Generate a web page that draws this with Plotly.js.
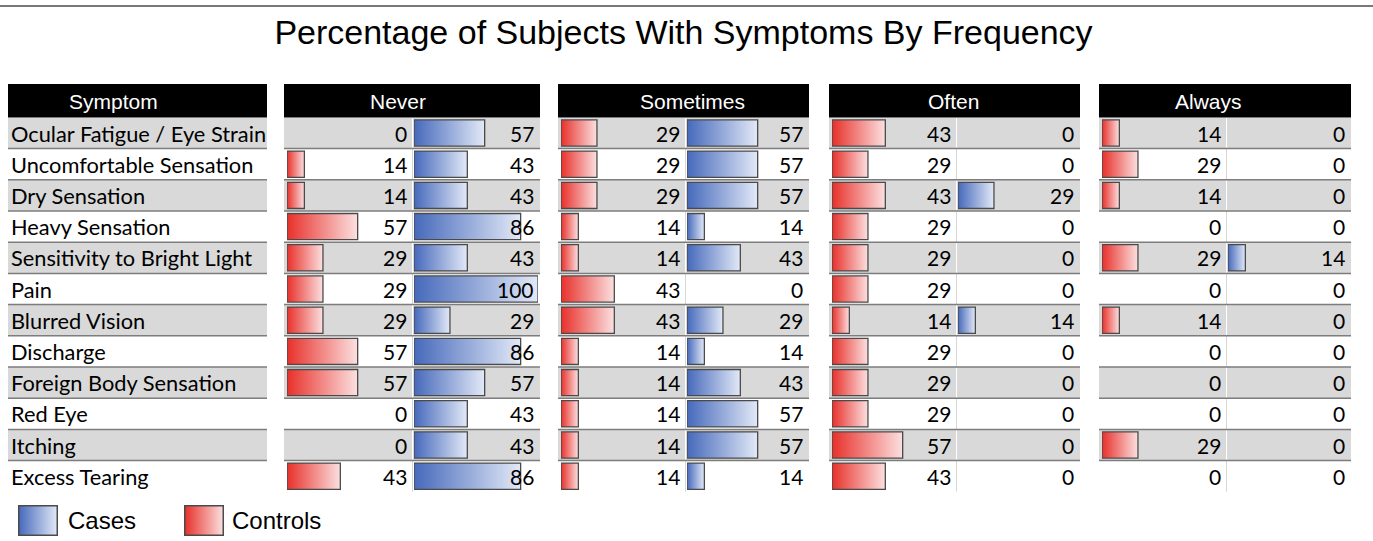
<!DOCTYPE html>
<html>
<head>
<meta charset="utf-8">
<script src="https://cdn.plot.ly/plotly-3.0.1.min.js"></script>
<style>html,body{margin:0;padding:0;background:#fff;}#chart{width:1373px;height:541px;}</style>
</head>
<body>
<div id="chart"></div>
<script>
// ---------- DATA ----------
const title = "Percentage of Subjects With Symptoms By Frequency";
const symptoms = ["Ocular Fatigue / Eye Strain","Uncomfortable Sensation","Dry Sensation","Heavy Sensation","Sensitivity to Bright Light","Pain","Blurred Vision","Discharge","Foreign Body Sensation","Red Eye","Itching","Excess Tearing"];
const frequencies = ["Never","Sometimes","Often","Always"];
const neverControls     = [0,14,14,57,29,29,29,57,57,0,0,43];
const neverCases        = [57,43,43,86,43,100,29,86,57,43,43,86];
const sometimesControls = [29,29,29,14,14,43,43,14,14,14,14,14];
const sometimesCases    = [57,57,57,14,43,0,29,14,43,57,57,14];
const oftenControls     = [43,29,43,29,29,29,14,29,29,29,57,43];
const oftenCases        = [0,0,29,0,0,0,14,0,0,0,0,0];
const alwaysControls    = [14,29,14,0,29,0,14,0,0,0,29,0];
const alwaysCases       = [0,0,0,0,14,0,0,0,0,0,0,0];
const seriesNames = ["Cases","Controls"];

// ---------- LAYOUT GEOMETRY (pixels) ----------
const W = 1373, H = 541;
const px = v => v / W;
const py = v => 1 - v / H;
const rowTop = 117.4, rowPitch = 31.2;
const nRows = symptoms.length;
const groups = [
  {ctrl: neverControls,     cases: neverCases,     L: 284,  S: 412.5,  R: 540,  hx: 398},
  {ctrl: sometimesControls, cases: sometimesCases, L: 558,  S: 685.5,  R: 809,  hx: 692},
  {ctrl: oftenControls,     cases: oftenCases,     L: 829,  S: 956.5,  R: 1080, hx: 953},
  {ctrl: alwaysControls,    cases: alwaysCases,    L: 1099, S: 1226.5, R: 1351, hx: 1208}
];
const symCol = {L: 8, R: 267, hx: 113};
const barPx = 124;       // pixels for 100 %
const halfH = 0.42;      // bar half-thickness in row units
const redScale  = [[0, "#e8302a"], [1, "#fbe0e0"]];
const blueScale = [[0, "#4669bb"], [1, "#e2e9f7"]];
const barLine = {color: "#4a4a4a", width: 1.3};
const grayRow = "#d9d9d9";
const numFont = {family: "Lato, 'Open Sans', sans-serif", size: 21, color: "#000"};
const symFont = {family: "Lato, 'Open Sans', sans-serif", size: 21.8, color: "#000"};
const hdrFont = {family: "'Liberation Sans', Arial, sans-serif", size: 21, color: "#fff"};

const traces = [];
const layout = {
  width: W, height: H,
  margin: {l: 0, r: 0, t: 0, b: 0},
  paper_bgcolor: "#fff", plot_bgcolor: "rgba(0,0,0,0)",
  showlegend: false,
  title: {text: title, x: px(683.5), xanchor: "center", y: py(32), yanchor: "middle",
          font: {family: "'Liberation Sans', Arial, sans-serif", size: 34, color: "#000"}},
  yaxis: {domain: [py(rowTop + nRows * rowPitch), py(rowTop)], range: [nRows - 0.5, -0.5],
          visible: false, showgrid: false, zeroline: false, fixedrange: true},
  shapes: [], annotations: [], images: []
};

function addBar(axisId, v, i, scale) {
  if (!v) return;
  traces.push({
    type: "scatter", mode: "lines", xaxis: axisId, yaxis: "y",
    x: [0, v, v, 0, 0],
    y: [i - halfH, i - halfH, i + halfH, i + halfH, i - halfH],
    fill: "toself", fillgradient: {type: "horizontal", colorscale: scale},
    line: barLine, hoverinfo: "skip"
  });
}

// row backgrounds for symptom column and groups
const cols = [symCol].concat(groups);
for (let i = 0; i < nRows; i++) {
  cols.forEach(c => {
    if (i % 2 === 0) {
      layout.shapes.push({type: "rect", layer: "below", xref: "paper", yref: "y",
        x0: px(c.L), x1: px(c.R), y0: i - 0.5, y1: i + 0.5, fillcolor: grayRow, line: {width: 0}});
    }
  });
}
// inner separators between control and case columns
for (let i = 0; i < nRows; i++) {
  groups.forEach(g => {
    layout.shapes.push({type: "line", layer: "below", xref: "paper", yref: "y",
      x0: px(g.S), x1: px(g.S), y0: i - 0.5, y1: i + 0.5,
      line: {color: i % 2 === 0 ? "#ffffff" : "#d6d6d6", width: 1}});
  });
}
// row separator lines
for (let i = 0; i < nRows - 1; i++) {
  cols.forEach(c => {
    layout.shapes.push({type: "line", xref: "paper", yref: "y",
      x0: px(c.L), x1: px(c.R), y0: i + 0.5, y1: i + 0.5,
      line: {color: "#7d7d7d", width: 1.5}});
  });
}
// headers
cols.forEach((c, k) => {
  layout.shapes.push({type: "rect", xref: "paper", yref: "paper",
    x0: px(c.L), x1: px(c.R), y0: py(117.5), y1: py(84), fillcolor: "#000", line: {width: 0}});
  layout.annotations.push({xref: "paper", yref: "paper", x: px(c.hx), y: py(101),
    xanchor: "center", yanchor: "middle", showarrow: false,
    text: k === 0 ? "Symptom" : frequencies[k - 1], font: hdrFont});
});
// top rule
layout.shapes.push({type: "line", xref: "paper", yref: "paper", x0: 0, x1: 1, y0: py(6), y1: py(6),
  line: {color: "#4d4d4d", width: 1.5}});

// symptom labels
symptoms.forEach((s, i) => {
  layout.annotations.push({xref: "paper", yref: "y", x: px(9), y: i, xanchor: "left", yanchor: "middle",
    showarrow: false, text: s, font: symFont});
});

// axes + bars + numbers
groups.forEach((g, k) => {
  const idC = 2 * k + 1, idK = 2 * k + 2;
  const nameC = idC === 1 ? "x" : "x" + idC, nameK = "x" + idK;
  const startC = g.L + 3, startK = g.S + 1.5;
  layout[idC === 1 ? "xaxis" : "xaxis" + idC] = {domain: [px(startC), px(startC + barPx)], range: [0, 100],
    anchor: "y", visible: false, showgrid: false, zeroline: false, fixedrange: true};
  layout["xaxis" + idK] = {domain: [px(startK), px(startK + barPx)], range: [0, 100],
    anchor: "y", visible: false, showgrid: false, zeroline: false, fixedrange: true};
  for (let i = 0; i < nRows; i++) {
    addBar(nameC, g.ctrl[i], i, redScale);
    addBar(nameK, g.cases[i], i, blueScale);
    layout.annotations.push({xref: "paper", yref: "y", x: px(g.S - 4), y: i, xanchor: "right", yanchor: "middle",
      showarrow: false, text: String(g.ctrl[i]), font: numFont});
    layout.annotations.push({xref: "paper", yref: "y", x: px(g.R - 4), y: i, xanchor: "right", yanchor: "middle",
      showarrow: false, text: String(g.cases[i]), font: numFont});
  }
});

// legend (swatches as gradient images + text)
function swatch(c0, c1) {
  const svg = "<svg xmlns='http://www.w3.org/2000/svg' width='40' height='31'><defs><linearGradient id='g' x1='0' x2='1' y1='0' y2='0'>" +
    "<stop offset='0' stop-color='" + c0 + "'/><stop offset='1' stop-color='" + c1 + "'/></linearGradient></defs>" +
    "<rect x='0.75' y='0.75' width='38.5' height='29.5' fill='url(#g)' stroke='#4a4a4a' stroke-width='1.5'/></svg>";
  return "data:image/svg+xml;charset=utf-8," + encodeURIComponent(svg);
}
const legendItems = [
  {name: seriesNames[0], scale: blueScale, bx: 18, tx: 66},
  {name: seriesNames[1], scale: redScale, bx: 184, tx: 230}
];
legendItems.forEach(it => {
  layout.images.push({source: swatch(it.scale[0][1], it.scale[1][1]), xref: "paper", yref: "paper",
    x: px(it.bx), y: py(505), sizex: px(40) , sizey: 31 / H, xanchor: "left", yanchor: "top",
    sizing: "stretch", layer: "above"});
  layout.annotations.push({xref: "paper", yref: "paper", x: px(it.tx), y: py(520), xanchor: "left", yanchor: "middle",
    showarrow: false, text: it.name, font: {family: "'Liberation Sans', Arial, sans-serif", size: 24, color: "#000"}});
});

Plotly.newPlot("chart", traces, layout, {displayModeBar: false, staticPlot: true});
</script>
</body>
</html>
